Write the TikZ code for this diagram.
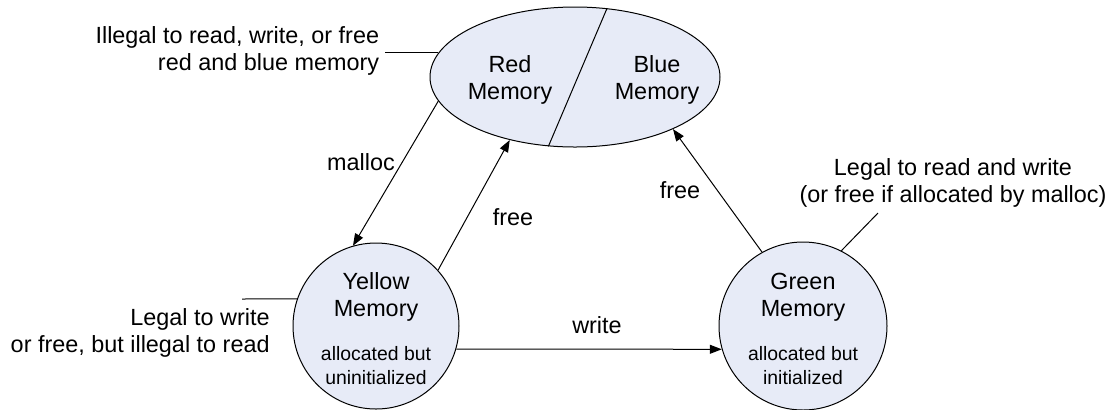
\documentclass[tikz,border=0pt]{standalone}
\usepackage{fontspec}
\setmainfont{Liberation Sans}
\usetikzlibrary{shapes.geometric,arrows.meta}
\definecolor{memfill}{RGB}{231,235,247}

\begin{document}
\begin{tikzpicture}[x=0.5pt,y=-0.5pt,
		memstate/.style={draw=black,fill=memfill,line width=0.5pt,inner sep=0pt},
		bigtxt/.style={align=center,inner sep=0pt,font=\fontsize{11.7}{13.5}\selectfont},
		smalltxt/.style={align=center,inner sep=0pt,font=\fontsize{9.7}{12}\selectfont},
		trans/.style={draw=black,line width=0.5pt,-{Triangle[length=6pt,width=4.5pt]}},
		lead/.style={draw=black,line width=0.5pt}]
		\useasboundingbox (0,0) rectangle (1114,409);
		% red / blue memory
		\node[memstate,ellipse,minimum width=145pt,minimum height=70pt] (mem) at (575,77) {};
		\draw[lead] (mem.65) -- (mem.-111);
		\node[bigtxt] (redtxt) at (510,80) {Red\\Memory};
		\node[bigtxt] (bluetxt) at (657,80) {Blue\\Memory};
		% yellow memory
		\node[memstate,circle,minimum size=83pt] (yel) at (376,326) {};
		\node[bigtxt] (yeltxt) at (376,297) {Yellow\\Memory};
		\node[smalltxt] (yelsub) at (376,366) {allocated but\\uninitialized};
		% green memory
		\node[memstate,circle,minimum size=84pt] (grn) at (803,326) {};
		\node[bigtxt] (grntxt) at (803,297) {Green\\Memory};
		\node[smalltxt] (grnsub) at (803,366) {allocated but\\initialized};
		% transitions
		\draw[trans] (mem.190) -- (yel.106);
		\node[bigtxt] (malloclbl) at (361,162) {malloc};
		\draw[trans] (yel.42) -- (mem.224);
		\node[bigtxt] (freelbl) at (513,217) {free};
		\draw[trans] (grn.119) -- (mem.-28);
		\node[bigtxt] (free2lbl) at (680,190) {free};
		\draw[trans] (yel.-16) -- (grn.196);
		\node[bigtxt] (writelbl) at (597,325) {write};
		% notes
		\node[bigtxt,align=right,anchor=east,inner xsep=2.5pt] (rbnote) at (384.5,51) {Illegal to read, write, or free\\red and blue memory};
		\draw[lead] (mem.170) -- (mem.170 -| rbnote.east);
		\node[bigtxt,align=right,anchor=east] (yelnote) at (270,333) {Legal to write\\or free, but illegal to read};
		\coordinate (yelend) at (242,299);
		\draw[lead] (yelend) -- (yel.161);
		\node[bigtxt] (grnnote) at (953,183) {Legal to read and write\\(or free if allocated by malloc)};
		\coordinate (grnend) at (878,213);
		\draw[lead] (grnend) -- (grn.63);
	\end{tikzpicture}
\end{document}
